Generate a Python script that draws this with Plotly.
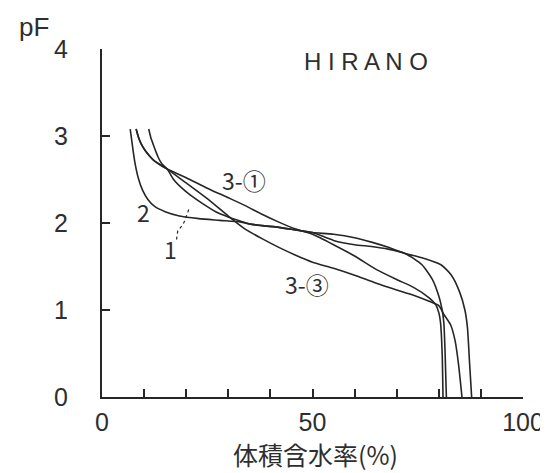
import plotly.graph_objects as go

# ---- data ----
# curve "2"
c2_x = [6.7, 7.2, 7.8, 8.6, 9.6, 10.9, 12.5, 15.0, 18.4, 23.0, 28.0, 33.0, 35.0, 38.0, 42.0, 46.0, 50.0,
        55.0, 60.0, 64.0, 68.0, 72.0, 76.0, 80.5, 83.0, 85.0, 86.2, 86.8, 87.3, 87.8]
c2_y = [3.08, 2.90, 2.70, 2.52, 2.38, 2.27, 2.19, 2.13, 2.08, 2.05, 2.03, 2.01, 1.99, 1.97, 1.95, 1.92, 1.89,
        1.87, 1.83, 1.78, 1.72, 1.65, 1.60, 1.52, 1.40, 1.20, 1.00, 0.80, 0.40, 0.00]
# curve "1"
c1_x = [11.1, 11.6, 12.2, 12.8, 13.4, 14.2, 15.5, 17.0, 19.0, 21.0, 24.0, 27.0, 30.0, 33.0, 35.0, 38.0, 42.0,
        46.0, 50.0, 55.0, 60.0, 64.0, 68.0, 72.0, 76.0, 78.5, 80.0, 80.8, 81.2, 81.5, 81.8]
c1_y = [3.08, 2.98, 2.90, 2.82, 2.75, 2.68, 2.62, 2.50, 2.40, 2.32, 2.22, 2.13, 2.07, 2.02, 1.99, 1.97, 1.95,
        1.92, 1.89, 1.80, 1.75, 1.73, 1.70, 1.65, 1.52, 1.35, 1.16, 1.00, 0.85, 0.50, 0.00]
# curve "3-①"
c31_x = [8.1, 8.7, 9.4, 10.3, 11.3, 12.5, 13.8, 15.5, 20.0, 25.0, 30.0, 34.0, 38.0, 42.0, 46.0, 50.0, 55.0,
         60.0, 65.0, 70.0, 74.0, 77.7, 79.3, 80.0, 80.4, 80.8, 81.0]
c31_y = [3.08, 2.98, 2.90, 2.83, 2.77, 2.71, 2.67, 2.62, 2.52, 2.40, 2.29, 2.20, 2.10, 2.01, 1.93, 1.87, 1.75,
         1.62, 1.47, 1.35, 1.26, 1.14, 1.06, 0.97, 0.86, 0.50, 0.00]
# curve "3-③"
c33_x = [8.1, 8.7, 9.4, 10.3, 11.3, 12.5, 13.8, 15.5, 20.0, 25.0, 30.0, 34.0, 38.0, 42.0, 46.0, 50.0, 55.0,
         60.0, 65.0, 70.0, 74.0, 77.7, 80.0, 81.2, 82.8, 83.9, 84.7, 85.5]
c33_y = [3.08, 2.98, 2.90, 2.83, 2.77, 2.71, 2.67, 2.62, 2.46, 2.28, 2.08, 1.93, 1.82, 1.72, 1.63, 1.55, 1.48,
         1.40, 1.31, 1.23, 1.17, 1.10, 1.05, 0.95, 0.83, 0.64, 0.37, 0.00]
# leader line for label "1"
lead_x = [17.7, 18.0, 19.2, 19.6, 20.8]
lead_y = [1.81, 1.91, 1.98, 2.02, 2.18]

x_ticks = [0, 10, 20, 30, 40, 50, 60, 70, 80, 90, 100]
x_tick_text = ["0", "", "", "", "", "50", "", "", "", "", "100"]
y_ticks = [0, 1, 2, 3, 4]
y_tick_text = ["0", "1", "2", "3", "4"]

labels = [
    ("2", 9.9, 2.13),
    ("1", 16.2, 1.70),
    ("3-①", 33.8, 2.50),
    ("3-③", 48.6, 1.30),
]

INK = "#262626"
TXT = "#2e2e2e"
W, H = 548, 473
ML, MR, MT, MB = 94, 26, 41, 84
PW, PH = W - ML - MR, H - MT - MB

fig = go.Figure()
for xs, ys in [(c2_x, c2_y), (c1_x, c1_y), (c31_x, c31_y), (c33_x, c33_y)]:
    fig.add_trace(go.Scatter(x=xs, y=ys, mode="lines",
                             line=dict(color=INK, width=1.6, shape="spline", smoothing=0.6),
                             showlegend=False, hoverinfo="skip"))
fig.add_trace(go.Scatter(x=lead_x, y=lead_y, mode="lines",
                         line=dict(color=INK, width=1.2, dash="3px,3px"),
                         showlegend=False, hoverinfo="skip"))

for txt, lx, ly in labels:
    fig.add_annotation(x=lx, y=ly, text=txt, showarrow=False, xref="x", yref="y",
                       font=dict(family="Noto Sans CJK JP", size=23, color=TXT))

fig.add_annotation(x=62.6, y=3.86, text="H I R A N O", showarrow=False, xref="x", yref="y",
                   font=dict(family="Liberation Sans, Arial", size=24, color=TXT))


def px_to_paper(px, py):
    return (px - ML) / PW, (H - MB - py) / PH


pfx, pfy = px_to_paper(25, 19)
fig.add_annotation(x=pfx, y=pfy, text="pF", showarrow=False, xref="paper", yref="paper",
                   xanchor="center", yanchor="middle",
                   font=dict(family="Liberation Sans, Arial", size=26, color=TXT))
ttx, tty = px_to_paper(311, 446)
fig.add_annotation(x=ttx, y=tty, text="体積含水率(%)", showarrow=False, xref="paper", yref="paper",
                   xanchor="center", yanchor="middle",
                   font=dict(family="Noto Sans CJK JP", size=25, color=TXT))

fig.update_layout(
    width=W, height=H,
    margin=dict(l=ML, r=MR, t=MT, b=MB),
    paper_bgcolor="white", plot_bgcolor="white",
    showlegend=False,
)

fig.update_xaxes(range=[0, 100], tickvals=x_ticks, ticktext=x_tick_text, ticks="inside", ticklen=8,
                 tickwidth=1.6, tickcolor=INK, showline=True, linecolor=INK, linewidth=2,
                 showgrid=False, zeroline=False, ticklabelstandoff=2,
                 tickfont=dict(family="Liberation Sans, Arial", size=25, color=TXT))
fig.update_yaxes(range=[0, 4], tickvals=y_ticks, ticktext=y_tick_text, ticks="inside", ticklen=8,
                 tickwidth=1.6, tickcolor=INK, showline=True, linecolor=INK, linewidth=2,
                 showgrid=False, zeroline=False, ticklabelstandoff=27,
                 tickfont=dict(family="Liberation Sans, Arial", size=25, color=TXT))

fig.write_html("out.html")
